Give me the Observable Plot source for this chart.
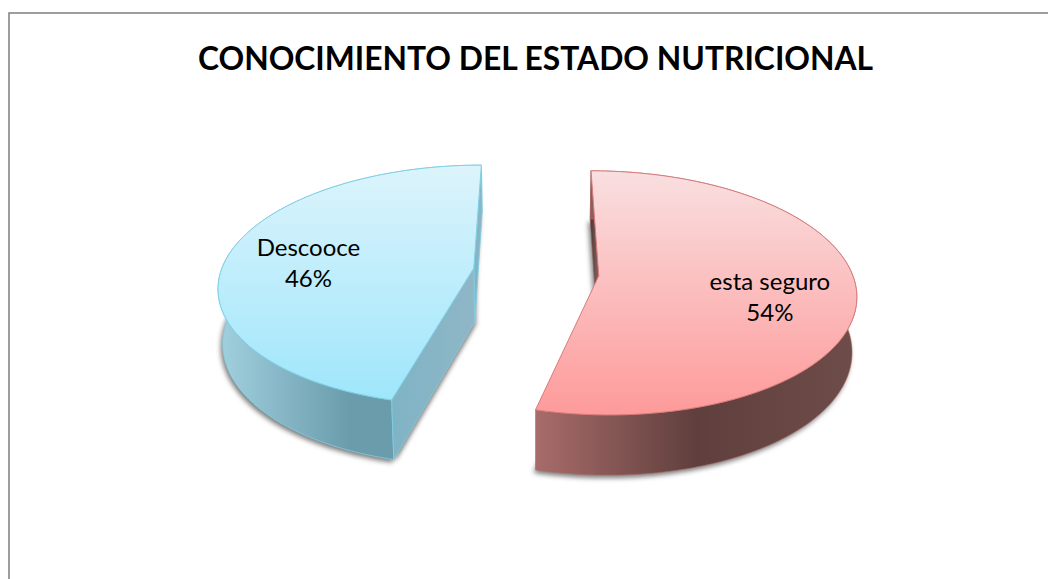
<!DOCTYPE html>
<html>
<head>
<meta charset="utf-8">
<script src="https://cdn.jsdelivr.net/npm/d3@7"></script>
<script src="https://cdn.jsdelivr.net/npm/@observablehq/plot@0.6"></script>
<style>
html,body{margin:0;padding:0;background:#fff}
svg{display:block}
</style>
</head>
<body>
<script>
const chartTitle = "CONOCIMIENTO DEL ESTADO NUTRICIONAL";
const categories = ["esta seguro", "Descooce"];
const shares = [54, 46];

const topGrad = [["#f9dfe0", "#fe9a9a"], ["#dcf4fb", "#9fe6fb"]];
const wallGrad = [["#a86c6a", "#5f3f3d", "#6e4c4a"], ["#a2d0df", "#6a9cac", "#6a9cac"]];
const edge = ["#d87c7b", "#7fd0e6"];
const labelNudge = [[2, 10], [-3, 3]];

// perspective model: pie in unit-disc units
const persp = 0.14, explode = 0.249, Ry = 118.6, Rx = 253, Xc = 535.5, Yc = 271.5;
const shrink = 0.985;
const rad = d => d * Math.PI / 180;
const project = (U, V) => [U / (1 + persp * V), V / (1 + persp * V)];
const lower = ([x, y], V) => [x * shrink, y - (54 - 6 * V) / Ry];

let acc = 0;
const slices = categories.map((name, i) => {
  const a0 = acc * 3.6; acc += shares[i]; const a1 = acc * 3.6;
  const mid = (a0 + a1) / 2;
  const ox = explode * Math.sin(rad(mid)), oy = explode * Math.cos(rad(mid));
  const at = (r, a) => { const U = ox + r * Math.sin(rad(a)), V = oy + r * Math.cos(rad(a)); return {U, V, p: project(U, V)}; };
  const top = a => at(1, a).p;
  const bot = a => { const q = at(1, a); return lower(q.p, q.V); };
  const angles = d3.range(a0, a1 + 0.001, (a1 - a0) / 160);
  const apex = at(0, 0);
  const apexB = lower(apex.p, apex.V);
  return {name, i, a0, a1, mid, share: shares[i], angles, top, bot, apex, apexB, at};
});
const poly = pts => [...pts, pts[0]];
const shapes = slices.map(s => ({
  face: poly([s.apex.p, ...s.angles.map(s.top)]),
  wall: poly([...s.angles.map(s.top), ...s.angles.slice().reverse().map(s.bot)]),
  base: poly([s.apexB, ...s.angles.map(s.bot)]),
  cutStart: poly([s.apex.p, s.top(s.a0), s.bot(s.a0), s.apexB]),
  cutEnd: poly([s.apex.p, s.top(s.a1), s.bot(s.a1), s.apexB])
}));

const X = d => d[0], Y = d => d[1];
const shape = (pts, o) => Plot.line(pts, {x: X, y: Y, curve: "linear", ...o});

const defs = () => {
  const ns = "http://www.w3.org/2000/svg";
  const d = document.createElementNS(ns, "defs");
  const grad = (id, stops, vertical) => {
    const g = document.createElementNS(ns, "linearGradient");
    g.setAttribute("id", id);
    g.setAttribute("x1", 0); g.setAttribute("y1", 0);
    g.setAttribute("x2", vertical ? 0 : 1); g.setAttribute("y2", vertical ? 1 : 0);
    stops.forEach((c, k) => {
      const st = document.createElementNS(ns, "stop");
      st.setAttribute("offset", k / (stops.length - 1));
      st.setAttribute("stop-color", c);
      g.appendChild(st);
    });
    d.appendChild(g);
  };
  topGrad.forEach((c, i) => grad("top" + i, c, true));
  wallGrad.forEach((c, i) => grad("wall" + i, c, false));
  grad("cutB", ["#7fb4c5", "#8fb6c6"], false);
  grad("cutR", ["#4a3533", "#8a6664"], false);
  return d;
};

const [red, blue] = shapes;
const labels = slices.map((s, i) => {
  const p = s.at(0.66, s.mid).p;
  return {text: `${s.name}\n${s.share}%`, x: p[0], y: p[1], dx: labelNudge[i][0], dy: labelNudge[i][1]};
});

const plot = Plot.plot({
  width: 1048, height: 579,
  margin: 0,
  x: {domain: [-1, 1], range: [Xc - Rx, Xc + Rx], axis: null},
  y: {domain: [-1, 1], range: [Yc + Ry, Yc - Ry], axis: null},
  style: {background: "#fff"},
  marks: [
    defs,
    Plot.frame({stroke: "#868686", strokeWidth: 1.6, insetLeft: 8.5, insetTop: 12.5, insetRight: -10, insetBottom: -10}),
    Plot.text([chartTitle], {text: d => d, frameAnchor: "top", dx: 11, dy: 59, fontFamily: "Lato", fontWeight: 700, fontSize: 31.8, fill: "#000", lineAnchor: "middle"}),
    // shadows
    shape(blue.base, {fill: "#444", fillOpacity: 0.7, imageFilter: "blur(2.5px)", dy: 3, dx: -2}),
    shape(blue.cutStart, {fill: "#555", fillOpacity: 0.5, imageFilter: "blur(2px)", dx: 2, dy: 2}),
    shape(red.base, {fill: "#444", fillOpacity: 0.7, imageFilter: "blur(2.5px)", dy: 3, dx: -2}),
    // blue
    shape(blue.wall, {fill: "url(#wall1)", stroke: edge[1], strokeWidth: 0.8}),
    shape(blue.cutEnd, {fill: "url(#cutB)", stroke: edge[1], strokeWidth: 0.8}),
    shape(blue.cutStart, {fill: "url(#cutB)", stroke: edge[1], strokeWidth: 0.8}),
    shape(blue.face, {fill: "url(#top1)", stroke: edge[1], strokeWidth: 1}),
    // red
    shape(red.cutStart, {fill: "url(#cutR)", stroke: "#8a5a58", strokeWidth: 0.6}),
    shape(red.wall, {fill: "url(#wall0)", stroke: "#b06a68", strokeWidth: 0.6}),
    shape(red.face, {fill: "url(#top0)", stroke: edge[0], strokeWidth: 1}),
    // labels
    ...labels.map(l => Plot.text([l], {x: "x", y: "y", text: "text", dx: l.dx, dy: l.dy, fontFamily: "Lato", fontSize: 24, fill: "#000", lineHeight: 1.3, lineAnchor: "middle"}))
  ]
});
document.body.appendChild(plot);
</script>
</body>
</html>
